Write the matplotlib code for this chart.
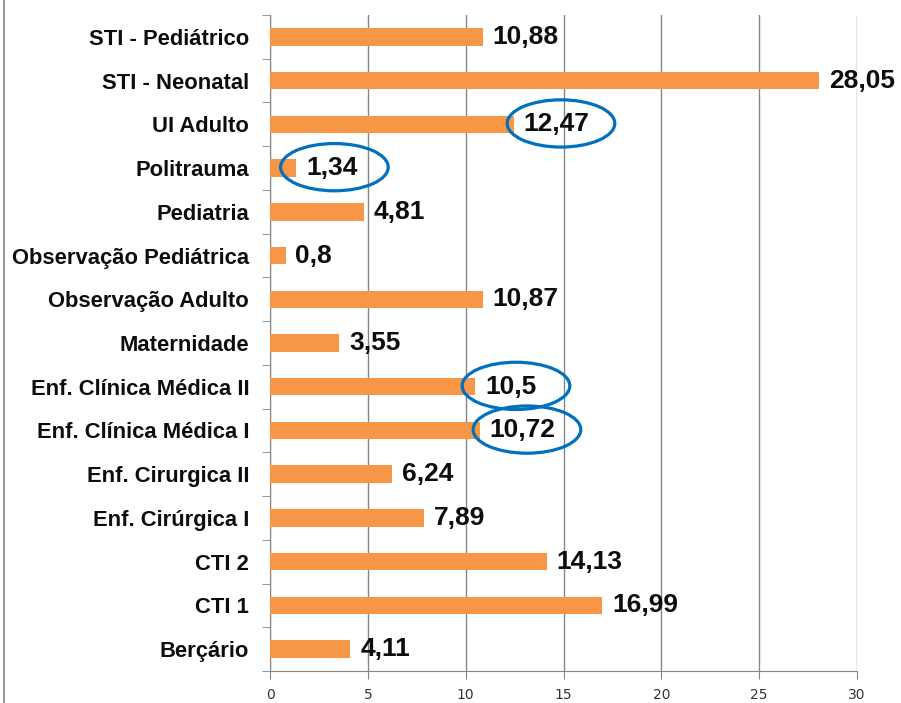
import matplotlib
matplotlib.use("Agg")
import matplotlib.pyplot as plt
from matplotlib.patches import Ellipse
from matplotlib.ticker import MultipleLocator

plt.rcParams["font.family"] = ["Liberation Sans", "DejaVu Sans"]

# bottom to top, as in the chart
setores = [
    "Berçário", "CTI 1", "CTI 2", "Enf. Cirúrgica I", "Enf. Cirurgica II",
    "Enf. Clínica Médica I", "Enf. Clínica Médica II", "Maternidade",
    "Observação Adulto", "Observação Pediátrica", "Pediatria", "Politrauma",
    "UI Adulto", "STI - Neonatal", "STI - Pediátrico",
]
valores = [4.11, 16.99, 14.13, 7.89, 6.24, 10.72, 10.5, 3.55,
           10.87, 0.8, 4.81, 1.34, 12.47, 28.05, 10.88]
rotulos = ["4,11", "16,99", "14,13", "7,89", "6,24", "10,72", "10,5", "3,55",
           "10,87", "0,8", "4,81", "1,34", "12,47", "28,05", "10,88"]
destaques = ["UI Adulto", "Politrauma", "Enf. Clínica Médica II", "Enf. Clínica Médica I"]
desloc_destaque = [2.4, 1.95, 2.07, 2.41]

fig = plt.figure(figsize=(9.01, 7.03), dpi=100)
ax = fig.add_axes([0.2997, 0.0455, 0.6515, 0.9332])

pos = list(range(len(setores)))
ax.barh(pos, valores, height=0.4, color="#F79646", zorder=3)

for y, v, r in zip(pos, valores, rotulos):
    ax.text(v + 0.5, y, r, va="center", ha="left", fontsize=19,
            fontweight="bold", color="#0d0d0d", zorder=4)

for nome, dx in zip(destaques, desloc_destaque):
    i = setores.index(nome)
    ax.add_patch(Ellipse((valores[i] + dx, i + 0.02), 5.5, 1.08, fill=False,
                         edgecolor="#0070C0", linewidth=2.3, zorder=5,
                         clip_on=False))

ax.set_xlim(0, 30)
ax.set_ylim(-0.5, len(setores) - 0.5)
ax.xaxis.set_major_locator(MultipleLocator(5))
ax.set_yticks(pos)
ax.set_yticklabels(setores, fontsize=15.8, fontweight="bold", color="#0d0d0d")
ax.set_yticks([p + 0.5 for p in pos[:-1]] + [-0.5, len(setores) - 0.5], minor=True)
ax.tick_params(axis="y", which="major", length=0, pad=15)
ax.tick_params(axis="y", which="minor", length=6, color="#868686", direction="out")
ax.tick_params(axis="x", length=6, color="#868686", pad=6, labelsize=10,
               labelcolor="#333333", labelfontfamily="DejaVu Sans")

ax.grid(axis="x", color="#868686", linewidth=1, zorder=0)
for s in ["top", "right"]:
    ax.spines[s].set_visible(False)
for s in ["left", "bottom"]:
    ax.spines[s].set_color("#868686")

# thin frame line on the left edge of the picture
fig.add_artist(plt.Line2D([0.004, 0.004], [0, 1], color="#9a9a9a", linewidth=1.5))

fig.savefig("out.png", dpi=100)
